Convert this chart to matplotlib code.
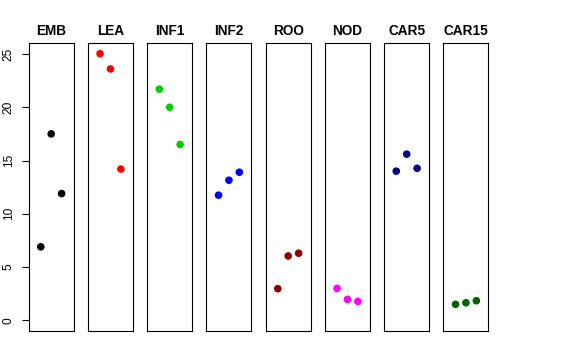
import matplotlib
matplotlib.use('Agg')
import matplotlib.pyplot as plt

plt.rcParams['font.family'] = ['Liberation Sans', 'DejaVu Sans']

# Werte je Gewebe (drei Replikate)
tissues = ['EMB', 'LEA', 'INF1', 'INF2', 'ROO', 'NOD', 'CAR5', 'CAR15']
emb = [6.9, 17.5, 11.9]
lea = [25.03, 23.6, 14.2]
inf1 = [21.7, 20.0, 16.5]
inf2 = [11.75, 13.15, 13.9]
roo = [2.97, 6.04, 6.3]
nod = [3.0, 1.97, 1.78]
car5 = [14.0, 15.6, 14.27]
car15 = [1.5, 1.65, 1.84]
values = [emb, lea, inf1, inf2, roo, nod, car5, car15]
colors = ['#000000', '#FF0000', '#00CD00', '#0000FF',
          '#8B0000', '#FF00FF', '#00008B', '#006400']
yticks = [0, 5, 10, 15, 20, 25]

W, H = 576, 360
fig = plt.figure(figsize=(W / 100, H / 100), dpi=100)

ymax = max(max(v) for v in values)
left0, step, width = 28.7, 59.25, 45.0
top, bottom = 43.0, 331.0

for i, (name, vals, col) in enumerate(zip(tissues, values, colors)):
    x0 = left0 + i * step
    ax = fig.add_axes([x0 / W, 1 - bottom / H, width / W, (bottom - top) / H])
    ax.scatter([1, 2, 3], vals, s=30, color=col, edgecolors='none', zorder=3)
    ax.set_xlim(-0.16, 4.16)
    ax.set_ylim(-0.04 * ymax, 1.04 * ymax)
    ax.set_xticks([])
    ax.set_title(name, fontsize=9.8, fontweight='bold', pad=6)
    for sp in ax.spines.values():
        sp.set_linewidth(0.8)
    if i == 0:
        ax.set_yticks(yticks)
        ax.set_yticklabels([str(t) for t in yticks], rotation=90, va='center', fontsize=8.6)
        ax.tick_params(axis='y', length=5, width=0.8, pad=5)
    else:
        ax.set_yticks([])

fig.savefig('out.png', dpi=100)
